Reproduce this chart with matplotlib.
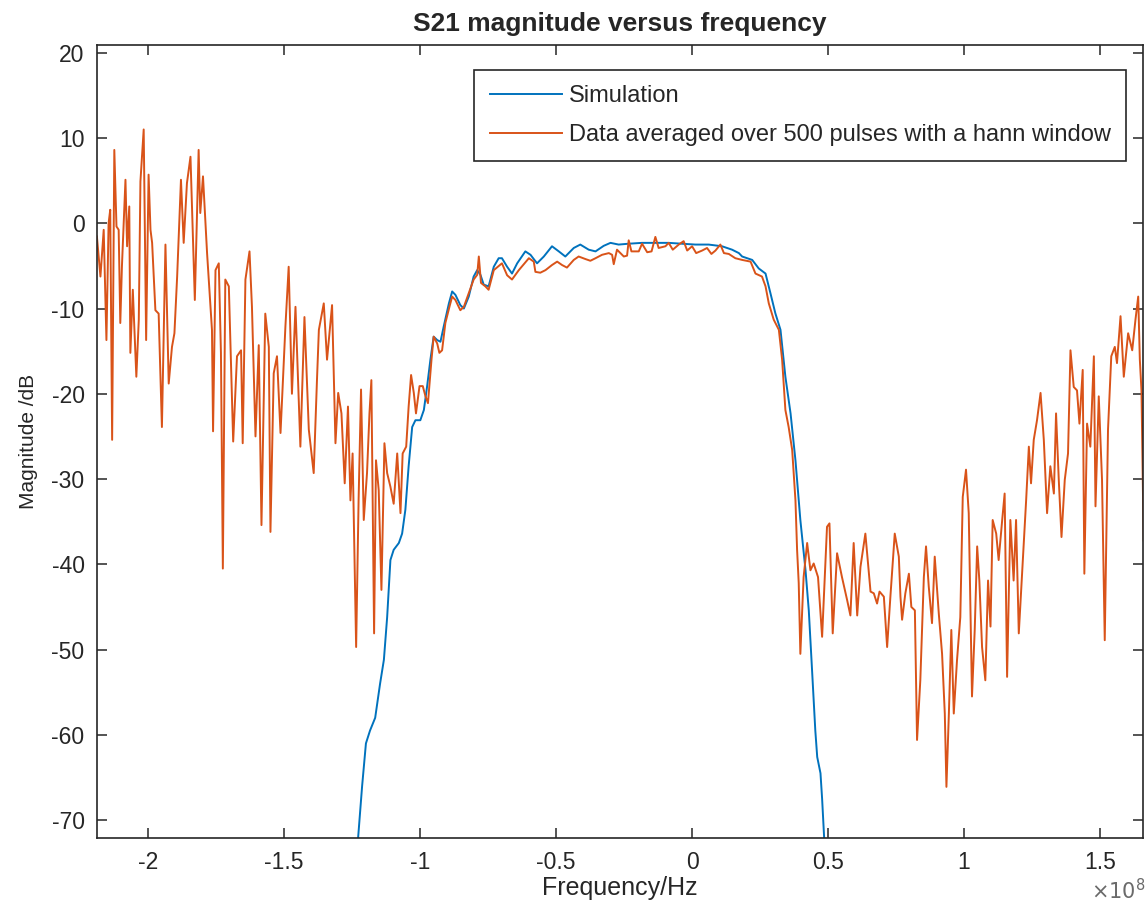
import matplotlib
matplotlib.use('Agg')
import matplotlib.pyplot as plt
from matplotlib.ticker import FuncFormatter

# frequency in units of 1e8 Hz, magnitude in dB
sim_freq = [-1.230, -1.213, -1.199, -1.184, -1.165, -1.147, -1.133, -1.121, -1.109, -1.097,
            -1.078, -1.066, -1.054, -1.042, -1.029, -1.017, -0.999, -0.986, -0.974, -0.962,
            -0.950, -0.937, -0.925, -0.913, -0.894, -0.882, -0.870, -0.852, -0.839, -0.821,
            -0.803, -0.790, -0.778, -0.766, -0.748, -0.729, -0.711, -0.699, -0.680, -0.662,
            -0.643, -0.613, -0.594, -0.570, -0.545, -0.515, -0.490, -0.466, -0.435, -0.411,
            -0.380, -0.355, -0.325, -0.300, -0.270, -0.233, -0.184, -0.135, -0.086, -0.037,
            0.012, 0.061, 0.110, 0.147, 0.172, 0.184, 0.221, 0.245, 0.270, 0.288,
            0.306, 0.325, 0.343, 0.362, 0.380, 0.398, 0.417, 0.429, 0.441, 0.453,
            0.460, 0.472, 0.478, 0.487]
sim_mag = [-73.0, -66.0, -61.0, -59.5, -58.0, -54.0, -51.2, -46.2, -39.5, -38.3,
           -37.5, -36.4, -33.6, -28.5, -23.9, -23.1, -23.1, -21.9, -19.1, -16.0,
           -13.3, -13.7, -13.9, -12.1, -9.4, -8.0, -8.4, -9.6, -10.0, -8.6,
           -6.25, -5.5, -6.05, -7.2, -7.4, -5.1, -4.1, -4.1, -5.1, -5.9,
           -4.7, -3.3, -3.7, -4.7, -3.9, -2.7, -3.3, -3.9, -2.9, -2.5,
           -3.1, -3.3, -2.65, -2.3, -2.5, -2.4, -2.3, -2.3, -2.3, -2.4,
           -2.5, -2.5, -2.7, -3.1, -3.5, -3.9, -4.3, -5.3, -5.9, -8.2,
           -10.55, -12.5, -18.0, -22.3, -27.8, -34.8, -40.7, -45.4, -52.4, -59.5,
           -62.6, -64.5, -67.5, -73.0]

data_freq = [
    -2.188, -2.175, -2.163, -2.153, -2.145, -2.139, -2.132, -2.124, -2.116, -2.108,
    -2.102, -2.096, -2.083, -2.077, -2.069, -2.065, -2.056, -2.043, -2.034, -2.028,
    -2.016, -2.007, -1.998, -1.991, -1.985, -1.973, -1.961, -1.949, -1.936, -1.924,
    -1.912, -1.903, -1.893, -1.879, -1.869, -1.857, -1.844, -1.828, -1.814, -1.808,
    -1.798, -1.783, -1.765, -1.761, -1.752, -1.740, -1.732, -1.725, -1.716, -1.703,
    -1.687, -1.673, -1.658, -1.652, -1.642, -1.627, -1.618, -1.605, -1.593, -1.583,
    -1.569, -1.556, -1.550, -1.538, -1.526, -1.513, -1.501, -1.495, -1.483, -1.471,
    -1.458, -1.440, -1.425, -1.409, -1.391, -1.379, -1.372, -1.354, -1.342,
    -1.3235, -1.311, -1.301, -1.289, -1.277, -1.265, -1.256, -1.248, -1.235, -1.226,
    -1.217, -1.207, -1.195, -1.186, -1.179, -1.169, -1.162, -1.152, -1.142, -1.131,
    -1.121, -1.109, -1.097, -1.084, -1.072, -1.064, -1.051, -1.042, -1.033, -1.023,
    -1.015, -1.002, -0.990, -0.980, -0.971, -0.958, -0.950, -0.937, -0.929, -0.919,
    -0.907, -0.892, -0.882, -0.870, -0.852, -0.839, -0.821, -0.803, -0.790, -0.784,
    -0.776, -0.760, -0.748, -0.729,
    -0.699, -0.680, -0.662, -0.637, -0.600, -0.582, -0.576, -0.558, -0.539, -0.515,
    -0.496, -0.478, -0.460, -0.435, -0.417, -0.392, -0.374, -0.355, -0.331, -0.306,
    -0.294, -0.288, -0.276, -0.251, -0.239, -0.233, -0.223, -0.196, -0.184, -0.165,
    -0.149, -0.135, -0.123, -0.098, -0.086, -0.071, -0.049, -0.031, -0.018, 0.000,
    0.015, 0.037, 0.055, 0.071, 0.086, 0.104, 0.117, 0.135, 0.159,
    0.184, 0.215, 0.233, 0.257, 0.270, 0.282, 0.300, 0.319, 0.331, 0.343,
    0.355, 0.368, 0.380, 0.386, 0.392, 0.398, 0.410, 0.423, 0.435, 0.447,
    0.463, 0.478, 0.496, 0.505, 0.517, 0.533, 0.551, 0.570, 0.582, 0.594,
    0.607, 0.619, 0.637, 0.656, 0.668, 0.680, 0.689, 0.705, 0.717, 0.729,
    0.745, 0.760, 0.766,
    0.772, 0.784, 0.797, 0.806, 0.819, 0.827, 0.839, 0.852, 0.860, 0.870,
    0.882, 0.892, 0.907, 0.919, 0.929, 0.935, 0.944, 0.953, 0.962, 0.974,
    0.986, 0.995, 1.007, 1.017, 1.029, 1.039, 1.048, 1.056, 1.066, 1.078,
    1.088, 1.097, 1.105, 1.118, 1.127, 1.140, 1.149, 1.158, 1.170, 1.182,
    1.191, 1.201, 1.213, 1.228, 1.238, 1.246, 1.256, 1.268, 1.281, 1.293,
    1.305, 1.317, 1.330, 1.338, 1.348, 1.358, 1.370, 1.382, 1.391, 1.403,
    1.415, 1.424, 1.436, 1.442, 1.452, 1.464, 1.477, 1.483, 1.495, 1.507,
    1.517, 1.529, 1.541, 1.554, 1.562, 1.575, 1.587, 1.603, 1.618, 1.630,
    1.640, 1.646, 1.652, 1.660]
data_mag = [
    -1.55, -6.25, -0.77, -13.7, 0.0, 1.58, -25.4, 8.6, -0.38, -0.77,
    -11.7, -5.07, 5.1, -2.7, 1.97, -15.2, -7.8, -18.0, -11.3, 4.9,
    11.0, -13.7, 5.7, -0.77, -2.3, -10.2, -10.6, -23.9, -2.5, -18.8,
    -14.5, -12.9, -6.25, 5.1, -2.3, 4.7, 7.8, -9.0, 8.6, 1.2,
    5.5, -3.5, -12.5, -24.4, -5.5, -4.7, -15.2, -40.5, -6.6, -7.4,
    -25.6, -15.6, -14.9, -25.8, -6.6, -3.3, -9.8, -25.0, -14.3, -35.4,
    -10.6, -14.5, -36.2, -17.6, -15.6, -24.6, -16.4, -12.1, -5.1, -20.0,
    -9.8, -26.2, -11.0, -24.2, -29.3, -18.4, -12.5, -9.4, -16.0,
    -9.6, -25.8, -19.9, -22.3, -30.5, -21.5, -32.5, -27.0, -49.7, -32.5,
    -19.5, -34.8, -29.3, -22.3, -18.4, -48.1, -27.8, -31.3, -43.0, -25.8,
    -29.3, -30.9, -32.9, -27.0, -34.0, -27.0, -26.2, -21.5, -17.8, -19.9,
    -22.3, -19.1, -19.1, -20.3, -21.1, -16.0, -13.3, -14.1, -15.2, -14.9,
    -11.7, -9.8, -8.6, -9.0, -10.2, -9.8, -8.2, -6.6, -6.05, -3.9,
    -7.0, -7.4, -7.8, -5.5,
    -4.7, -6.1, -6.6, -5.5, -4.1, -4.5, -5.7, -5.8, -5.5, -4.9,
    -4.5, -4.9, -5.2, -4.3, -3.9, -4.2, -4.4, -4.1, -3.7, -3.5,
    -3.7, -4.8, -3.1, -3.9, -3.8, -2.0, -3.3, -3.3, -2.4, -3.4,
    -3.3, -1.6, -2.9, -2.7, -2.3, -3.1, -2.5, -2.1, -3.2, -2.7,
    -3.5, -3.2, -2.9, -3.6, -3.2, -2.5, -3.5, -3.6, -4.1,
    -4.3, -4.5, -5.9, -6.25, -7.4, -9.4, -11.3, -12.5, -16.0, -21.9,
    -23.9, -26.6, -32.5, -38.3, -42.2, -50.5, -41.5, -37.5, -40.7, -39.9,
    -41.5, -48.5, -35.6, -35.2, -48.1, -38.7, -41.5, -44.2, -46.0, -37.5,
    -46.0, -40.3, -36.4, -43.2, -43.4, -44.6, -43.2, -43.8, -49.7, -43.8,
    -36.4, -39.1, -43.8,
    -46.5, -43.4, -41.1, -45.0, -45.4, -60.6, -53.6, -41.5, -37.9, -42.6,
    -46.9, -39.1, -45.8, -50.5, -57.5, -66.1, -57.5, -47.7, -57.5, -51.2,
    -46.2, -32.1, -28.9, -34.0, -55.5, -47.7, -37.9, -41.9, -49.7, -53.6,
    -41.9, -47.3, -34.8, -36.4, -39.5, -34.8, -31.7, -53.2, -34.8, -41.9,
    -34.8, -48.1, -41.1, -32.5, -26.2, -30.5, -25.4, -23.1, -19.9, -25.4,
    -34.0, -28.5, -31.7, -22.3, -30.1, -36.8, -30.1, -27.0, -14.9, -19.2,
    -19.6, -23.5, -17.2, -41.1, -23.5, -26.2, -15.6, -33.2, -20.3, -30.1,
    -48.9, -24.2, -15.6, -14.5, -16.4, -10.9, -18.0, -12.9, -14.9, -11.3,
    -8.6, -16.0, -19.6, -37.2]

x_ticks = [-2, -1.5, -1, -0.5, 0, 0.5, 1, 1.5]
y_ticks = [-70, -60, -50, -40, -30, -20, -10, 0, 10, 20]

plt.rcParams['font.family'] = ['Liberation Sans', 'DejaVu Sans']
plt.rcParams['axes.unicode_minus'] = False

dark = '#262626'
fig = plt.figure(figsize=(11.47, 9.10), dpi=100)
ax = fig.add_axes([0.0846, 0.0791, 0.9120, 0.8714])

scale = 1e8
ax.plot([f * scale for f in sim_freq], sim_mag, color='#0072BD', linewidth=1.4,
        label='Simulation')
ax.plot([f * scale for f in data_freq], data_mag, color='#D95319', linewidth=1.4,
        label='Data averaged over 500 pulses with a hann window')

ax.set_xlim(-2.1875 * scale, 1.658 * scale)
ax.set_ylim(-72.1, 20.9)
ax.set_xticks([t * scale for t in x_ticks])
ax.set_yticks(y_ticks)
ax.xaxis.set_major_formatter(FuncFormatter(lambda v, pos: f'{v / scale:g}'))
ax.text(1.002, -0.066, r'$\times10^{8}$', transform=ax.transAxes, ha='right',
        va='center', fontsize=15, color='#6a6a6a')

ax.tick_params(direction='in', top=True, right=True, length=7, width=1.1,
               colors=dark, labelsize=16.5)
ax.tick_params(axis='x', pad=9)
ax.tick_params(axis='y', pad=9)
for s in ax.spines.values():
    s.set_color(dark)
    s.set_linewidth(1.2)

ax.set_title('S21 magnitude versus frequency', fontsize=19, fontweight='bold',
             color=dark, pad=10)
ax.set_xlabel('Frequency/Hz', fontsize=18, color=dark, labelpad=2)
ax.set_ylabel('Magnitude /dB', fontsize=15, color=dark, labelpad=10)

leg = ax.legend(loc='upper right', bbox_to_anchor=(0.9837, 0.9685), borderaxespad=0,
                fontsize=17, handlelength=3.05, handletextpad=0.3, labelspacing=0.7,
                borderpad=0.65, fancybox=False, framealpha=1, edgecolor=dark)
leg.get_frame().set_linewidth(1.2)
for t in leg.get_texts():
    t.set_color(dark)

fig.savefig('out.png', dpi=100)
